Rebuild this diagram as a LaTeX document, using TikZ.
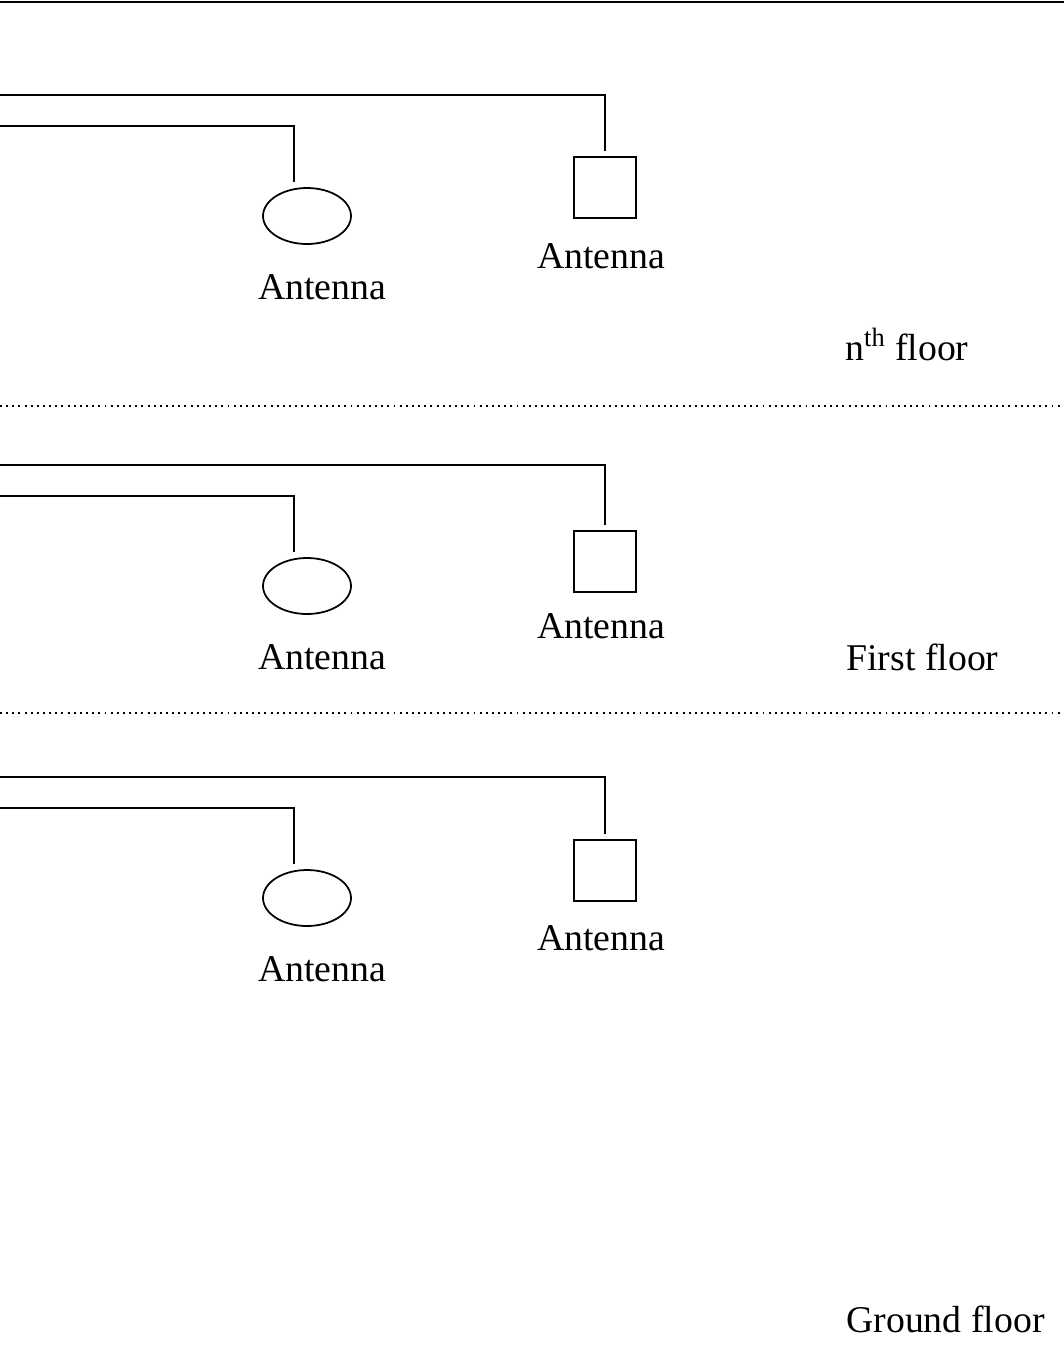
\documentclass[tikz,border=0pt]{standalone}
\usepackage{fontspec}
\setmainfont{Liberation Serif}
\usetikzlibrary{shapes.geometric,positioning}
\tikzset{
  wire/.style={line width=1pt},
  ant/.style={draw,line width=1pt,minimum width=1.24cm,minimum height=1.22cm,inner sep=0pt},
  antel/.style={draw,ellipse,line width=1pt,minimum width=1.76cm,minimum height=1.12cm,inner sep=0pt},
  lbl/.style={anchor=base,inner sep=0pt,font=\fontsize{21.5}{25}\selectfont},
  floorline/.style={line width=1.1pt,dash pattern=on 1.1pt off 2.4pt}
}
\begin{document}
\begin{tikzpicture}[x=0.02cm,y=-0.02cm]
  \useasboundingbox (0,0) rectangle (1064,1363);
  \draw[line width=1.4pt] (0,2) -- (1064,2) ;
  % floors
  \foreach \f/\dy/\ds in {n/0/0,a/370/4,g/682/1}{
    \coordinate (w1\f) at (0,95+\dy) ;
    \coordinate (w2\f) at (0,126+\dy) ;
    \node[ant] (sq\f) at (605,187.5+\dy+\ds) {} ;
    \node[antel] (el\f) at (307,216+\dy) {} ;
    \node[lbl] (lsq\f) at (601,268+\dy) {Antenna} ;
    \node[lbl] (lel\f) at (322,299+\dy) {Antenna} ;
    \draw[wire,shorten >=0.1cm] (w1\f) -| (sq\f.north) ;
    \draw[wire,shorten >=0.1cm] (w2\f) -| ([xshift=-0.26cm]el\f.north) ;
  }
  \node[lbl,anchor=base west] (fn) at (845,360) {n\textsuperscript{th} floor} ;
  \node[lbl,anchor=base west] (fa) at (846,670) {First floor} ;
  \node[lbl,anchor=base west] (fg) at (846,1332) {Ground floor} ;
  \draw[floorline] (0,406) -- (1064,406) ;
  \draw[floorline] (0,713) -- (1064,713) ;
\end{tikzpicture}
\end{document}
